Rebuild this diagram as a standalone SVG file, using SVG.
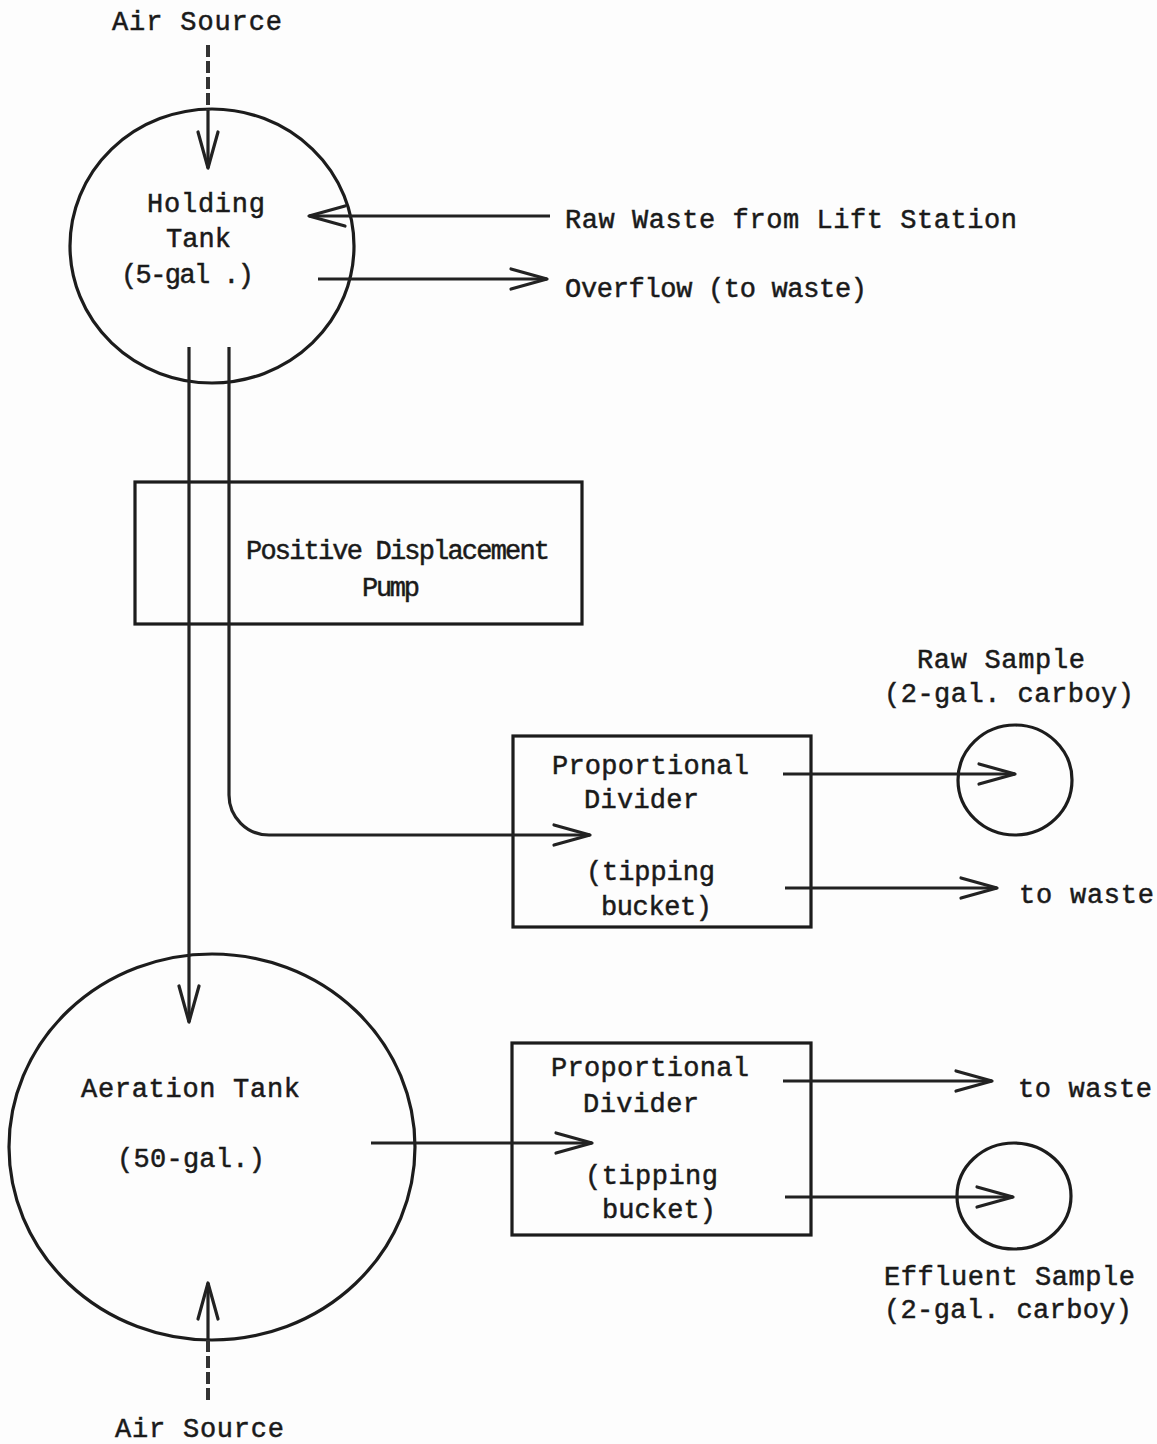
<svg xmlns="http://www.w3.org/2000/svg" width="1157" height="1444" viewBox="0 0 1157 1444">
  <defs>
    <style>
      .shape { fill: none; stroke: #1c1c1c; stroke-width: 3.2; }
      .conn { fill: none; stroke: #222; stroke-width: 3.2; }
      .dash { fill: none; stroke: #333; stroke-width: 4; stroke-dasharray: 12 4; }
      .lbl { font-family: "Liberation Mono", "DejaVu Sans Mono", monospace; font-size: 27px; fill: #1a1a1a; stroke: #1a1a1a; stroke-width: 0.5; }
    </style>
    <marker id="arr" viewBox="-40 -14 44 28" refX="0" refY="0" markerWidth="44" markerHeight="28" markerUnits="userSpaceOnUse" orient="auto">
      <path d="M-36,-10 L0,0 L-36,10" fill="none" stroke="#222" stroke-width="3.2" stroke-linecap="round" stroke-linejoin="round"/>
    </marker>
  </defs>
  <rect x="0" y="0" width="1157" height="1444" fill="#fdfdfd"/>

  <g id="air-source-top">
    <text class="lbl" x="112" y="30" textLength="170" lengthAdjust="spacing">Air Source</text>
  </g>
  <g id="holding-tank">
    <ellipse class="shape" cx="212" cy="246" rx="142" ry="137"/>
    <text class="lbl" x="147" y="212" textLength="118" lengthAdjust="spacing">Holding</text>
    <text class="lbl" x="166" y="247" textLength="65" lengthAdjust="spacing">Tank</text>
    <text class="lbl" x="121" y="283" textLength="133" lengthAdjust="spacing">(5-gal .)</text>
  </g>
  <g id="raw-waste">
    <text class="lbl" x="565" y="228" textLength="452" lengthAdjust="spacing">Raw Waste from Lift Station</text>
  </g>
  <g id="overflow">
    <text class="lbl" x="565" y="297" textLength="302" lengthAdjust="spacing">Overflow (to waste)</text>
  </g>
  <g id="pump">
    <rect class="shape" x="135" y="482" width="447" height="142"/>
    <text class="lbl" x="246" y="559" textLength="304" lengthAdjust="spacing">Positive Displacement</text>
    <text class="lbl" x="362" y="596" textLength="58" lengthAdjust="spacing">Pump</text>
  </g>
  <g id="divider-1">
    <rect class="shape" x="513" y="736" width="298" height="191"/>
    <text class="lbl" x="552" y="774" textLength="197" lengthAdjust="spacing">Proportional</text>
    <text class="lbl" x="584" y="808" textLength="115" lengthAdjust="spacing">Divider</text>
    <text class="lbl" x="586" y="880" textLength="129" lengthAdjust="spacing">(tipping</text>
    <text class="lbl" x="601" y="915" textLength="111" lengthAdjust="spacing">bucket)</text>
  </g>
  <g id="raw-sample">
    <ellipse class="shape" cx="1015" cy="780" rx="57" ry="55"/>
    <text class="lbl" x="917" y="668" textLength="168" lengthAdjust="spacing">Raw Sample</text>
    <text class="lbl" x="884" y="702" textLength="250" lengthAdjust="spacing">(2-gal. carboy)</text>
  </g>
  <g id="waste-1">
    <text class="lbl" x="1019" y="903" textLength="135" lengthAdjust="spacing">to waste</text>
  </g>
  <g id="aeration-tank">
    <ellipse class="shape" cx="212" cy="1147" rx="203" ry="193"/>
    <text class="lbl" x="81" y="1097" textLength="219" lengthAdjust="spacing">Aeration Tank</text>
    <text class="lbl" x="117" y="1167" textLength="148" lengthAdjust="spacing">(50-gal.)</text>
  </g>
  <g id="divider-2">
    <rect class="shape" x="512" y="1043" width="299" height="192"/>
    <text class="lbl" x="551" y="1076" textLength="198" lengthAdjust="spacing">Proportional</text>
    <text class="lbl" x="583" y="1112" textLength="116" lengthAdjust="spacing">Divider</text>
    <text class="lbl" x="585" y="1184" textLength="133" lengthAdjust="spacing">(tipping</text>
    <text class="lbl" x="602" y="1218" textLength="114" lengthAdjust="spacing">bucket)</text>
  </g>
  <g id="waste-2">
    <text class="lbl" x="1018" y="1097" textLength="134" lengthAdjust="spacing">to waste</text>
  </g>
  <g id="effluent-sample">
    <ellipse class="shape" cx="1014" cy="1196" rx="57" ry="53"/>
    <text class="lbl" x="884" y="1285" textLength="251" lengthAdjust="spacing">Effluent Sample</text>
    <text class="lbl" x="884" y="1318" textLength="248" lengthAdjust="spacing">(2-gal. carboy)</text>
  </g>
  <g id="air-source-bottom">
    <text class="lbl" x="115" y="1437" textLength="169" lengthAdjust="spacing">Air Source</text>
  </g>

  <g id="connectors">
    <line class="dash" x1="208" y1="45" x2="208" y2="110"/>
    <line class="conn" x1="208" y1="110" x2="208" y2="168" marker-end="url(#arr)"/>
    <line class="conn" x1="550" y1="216" x2="309" y2="216" marker-end="url(#arr)"/>
    <line class="conn" x1="318" y1="279" x2="547" y2="279" marker-end="url(#arr)"/>
    <line class="conn" x1="189" y1="347" x2="189" y2="1022" marker-end="url(#arr)"/>
    <path class="conn" d="M229,347 V795 A40,40 0 0 0 269,835 H590" marker-end="url(#arr)"/>
    <line class="conn" x1="783" y1="774" x2="1015" y2="774" marker-end="url(#arr)"/>
    <line class="conn" x1="785" y1="888" x2="997" y2="888" marker-end="url(#arr)"/>
    <line class="conn" x1="371" y1="1143" x2="592" y2="1143" marker-end="url(#arr)"/>
    <line class="conn" x1="783" y1="1081" x2="992" y2="1081" marker-end="url(#arr)"/>
    <line class="conn" x1="785" y1="1197" x2="1013" y2="1197" marker-end="url(#arr)"/>
    <line class="dash" x1="208" y1="1400" x2="208" y2="1340"/>
    <line class="conn" x1="208" y1="1340" x2="208" y2="1283" marker-end="url(#arr)"/>
  </g>
</svg>
